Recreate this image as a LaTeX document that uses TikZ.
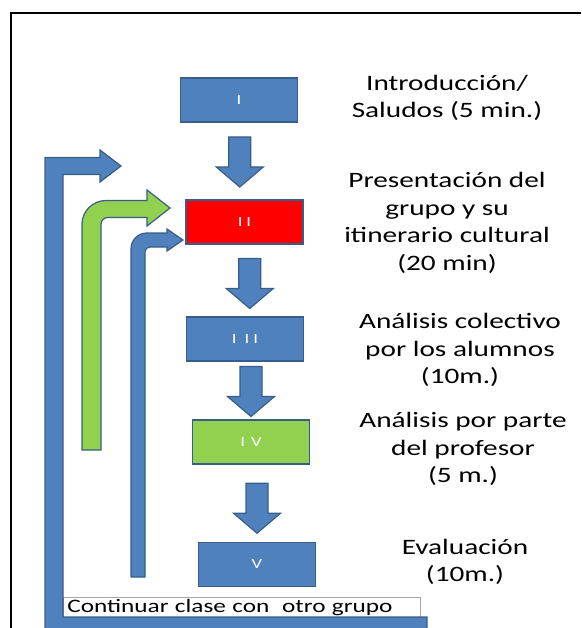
\documentclass[tikz,border=0pt]{standalone}
\usepackage{fontspec}
\setmainfont{Carlito}[FakeStretch=1.33]
\usetikzlibrary{calc}

\definecolor{azul}{HTML}{4F81BD}
\definecolor{borde}{HTML}{385D8A}
\definecolor{verde}{HTML}{92D050}
\definecolor{rojo}{HTML}{FF0000}

\tikzset{
  caja/.style={draw=borde, line width=1.2pt, minimum width=117pt, minimum height=44pt,
    inner sep=0pt, text=white, font=\fontsize{14}{16}\selectfont},
  etiqueta/.style={align=center, font=\fontsize{22}{27.5}\selectfont},
  flecha/.style={fill=azul, draw=borde, line width=1.2pt, line join=miter}
}

% block arrow between two boxes
\newcommand{\bajada}[3]{%
  \coordinate (m) at ($(#1.south)!0.5!(#2.north)+#3$);
  \filldraw[flecha] ($(m)+(-11,-25)$) -- ($(m)+(11,-25)$) -- ($(m)+(11,5)$)
    -- ($(m)+(23.5,5)$) -- ($(m)+(0,25)$) -- ($(m)+(-23.5,5)$) -- ($(m)+(-11,5)$) -- cycle;
}

\begin{document}
\begin{tikzpicture}[x=1pt,y=-1pt]
\useasboundingbox (0,0) rectangle (581,628);

% Frame
\draw[line width=1.5pt] (11,628) -- (11,13) -- (581,13);

% Steps
\node[caja, fill=azul]  (b1) at (239,100)   {I};
\node[caja, fill=rojo]  (b2) at (244.5,222) {I\hspace{4pt}I};
\node[caja, fill=azul]  (b3) at (245,339)   {I\hspace{8pt}I\hspace{4pt}I};
\node[caja, fill=verde] (b4) at (251,442)   {I\hspace{6pt}V};
\node[caja, fill=azul]  (b5) at (257,564.5) {V};

\bajada{b1}{b2}{(-2,1)}
\bajada{b2}{b3}{(5,3)}
\bajada{b3}{b4}{(3,1)}
\bajada{b4}{b5}{(3,5)}

% Labels
\node[etiqueta] (t1) at (447,98)  {Introducción/\\Saludos (5 min.)};
\node[etiqueta] (t2) at (447,223) {Presentación del\\grupo y su\\itinerario cultural\\(20 min)};
\node[etiqueta] (t3) at (460,350) {Análisis colectivo\\por los alumnos\\(10m.)};
\node[etiqueta] (t4) at (463,449) {Análisis por parte\\del profesor\\(5 m.)};
\node[etiqueta] (t5) at (465,562) {Evaluación\\(10m.)};

% Return arrows
\node[draw=gray!70, line width=0.6pt, anchor=north west, minimum width=357pt, minimum height=20pt,
  text width=349pt, inner xsep=4pt, inner ysep=0pt, align=left,
  font=\fontsize{19}{19}\selectfont] (otro) at (63,597) {Continuar clase con\ \ otro grupo};
\filldraw[flecha] (45,630) -- (45,157.5) -- (100,157.5) -- (100,150) -- (121,166) -- (100,182)
  -- (100,174.5) -- (63,174.5) -- (63,617) -- (427,617) -- (427,630) -- cycle;
\filldraw[flecha, fill=verde] (82,450) -- (82,224) .. controls (82,211) and (93,200.5) .. (106,200.5)
  -- (147,200.5) -- (147,190) -- (170,208) -- (147,226) -- (147,217.5) -- (108,217.5)
  .. controls (104,217.5) and (101,220.5) .. (101,224.5) -- (101,450) -- cycle;
\filldraw[flecha] (131,577) -- (131,249) .. controls (131,240) and (138,233) .. (147,233)
  -- (167,233) -- (167,229) -- (183,240) -- (167,251) -- (167,247) -- (150,247)
  .. controls (147,247) and (145,249) .. (145,252) -- (145,577) -- cycle;
\end{tikzpicture}
\end{document}
